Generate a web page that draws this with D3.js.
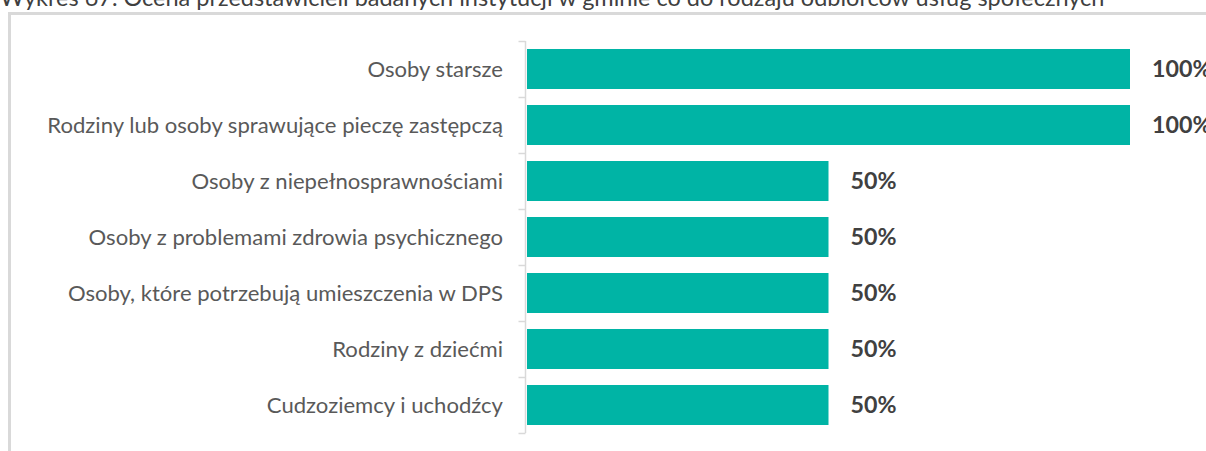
<!DOCTYPE html>
<html>
<head>
<meta charset="utf-8">
<script src="https://cdn.jsdelivr.net/npm/d3@7"></script>
<style>
  html, body { margin: 0; padding: 0; background: #fff; overflow: hidden; }
  svg { display: block; }
</style>
</head>
<body>
<svg id="chart" width="1206" height="451"></svg>
<script>
// Recipients of social services as assessed by surveyed institutions
const title = "Wykres 67. Ocena przedstawicieli badanych instytucji w gminie co do rodzaju odbiorców usług społecznych";
const categories = [
  "Osoby starsze",
  "Rodziny lub osoby sprawujące pieczę zastępczą",
  "Osoby z niepełnosprawnościami",
  "Osoby z problemami zdrowia psychicznego",
  "Osoby, które potrzebują umieszczenia w DPS",
  "Rodziny z dziećmi",
  "Cudzoziemcy i uchodźcy"
];
const values = [1.0, 1.0, 0.5, 0.5, 0.5, 0.5, 0.5];

const W = 1206, H = 451;
const FONT = "Lato, 'Open Sans', 'Liberation Sans', sans-serif";
const svg = d3.select("#chart");

// Frame around the plot area
svg.append("path")
  .attr("d", `M9.5,${H} L9.5,13.5 L${W},13.5`)
  .attr("fill", "none")
  .attr("stroke", "#d9d9d9")
  .attr("stroke-width", 3);

// Title, sized to span its line
const titleText = svg.append("text")
  .attr("x", 0).attr("y", 6)
  .attr("font-family", FONT)
  .attr("font-size", 20)
  .attr("fill", "#404040")
  .text(title);
{
  const w = titleText.node().getComputedTextLength();
  titleText.attr("font-size", 20 * 1105 / w);
}

const y = d3.scaleBand()
  .domain(categories)
  .range([41, 433])
  .paddingInner(0.2857)
  .paddingOuter(0.1429);

const x = d3.scaleLinear().domain([0, 1]).range([527, 1130]);

// Bars
svg.append("g").selectAll("rect")
  .data(categories)
  .join("rect")
  .attr("x", x(0))
  .attr("y", d => y(d))
  .attr("width", (d, i) => x(values[i]) - x(0))
  .attr("height", y.bandwidth())
  .attr("fill", "#00b4a5");

// Category axis: vertical line with ticks at band boundaries
const axisX = 525.5;
const step = y.step();
const bounds = d3.range(categories.length + 1).map(i => 41 + i * step);
const ax = svg.append("g").attr("stroke", "#d9d9d9").attr("stroke-width", 1.5);
ax.append("line").attr("x1", axisX).attr("x2", axisX).attr("y1", bounds[0]).attr("y2", bounds[bounds.length - 1]);
ax.selectAll("line.tick").data(bounds).join("line")
  .attr("class", "tick")
  .attr("x1", axisX - 7).attr("x2", axisX)
  .attr("y1", d => d + 0.5).attr("y2", d => d + 0.5);

// Category labels
const labels = svg.append("g").selectAll("text")
  .data(categories)
  .join("text")
  .attr("x", 503)
  .attr("y", d => y(d) + y.bandwidth() / 2)
  .attr("dy", "0.35em")
  .attr("text-anchor", "end")
  .attr("font-family", FONT)
  .attr("font-size", 18)
  .attr("fill", "#595959")
  .text(d => d);
{
  const w = labels.filter((d, i) => i === 1).node().getComputedTextLength();
  labels.attr("font-size", 18 * 456 / w);
}

// Value labels
const vals = svg.append("g").selectAll("text")
  .data(categories)
  .join("text")
  .attr("x", (d, i) => x(values[i]) + 22)
  .attr("y", d => y(d) + y.bandwidth() / 2)
  .attr("dy", "0.36em")
  .attr("font-family", FONT)
  .attr("font-weight", "bold")
  .attr("font-size", 19)
  .attr("fill", "#404040")
  .text((d, i) => Math.round(values[i] * 100) + "%");
{
  const w = vals.filter((d, i) => i === 2).node().getComputedTextLength();
  vals.attr("font-size", 19 * 46 / w);
}
</script>
</body>
</html>
